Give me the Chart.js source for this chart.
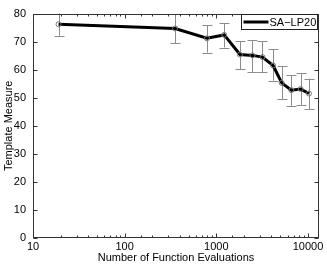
<!DOCTYPE html>
<html>
<head>
<meta charset="utf-8">
<script src="https://cdn.jsdelivr.net/npm/chart.js@4/dist/chart.umd.min.js"></script>
<style>
  html, body { margin: 0; padding: 0; background: #fff; }
  #wrap { width: 327px; height: 266px; }
</style>
</head>
<body>
<div id="wrap"><canvas id="templ"></canvas></div>
<script>
// data
const evals = [19, 355, 790, 1220, 1810, 2480, 3190, 4170, 5170, 6590, 8320, 10260];
const measure = [76.2, 74.7, 71.2, 72.4, 65.4, 65.1, 64.5, 61.5, 55.3, 52.7, 53.1, 51.5];
const errLow = [72.1, 69.5, 66.1, 67.9, 60.1, 59.2, 59.1, 56.1, 49.5, 47.1, 47.4, 46.0];
const errHigh = [80.6, 79.8, 75.9, 76.6, 70.2, 70.6, 70.2, 67.3, 61.3, 58.1, 58.8, 56.8];
const xLabels = [10, 100, 1000, 10000];
const seriesName = 'SA\u2212LP20';

const font = { family: '"Liberation Sans", Arial, sans-serif', size: 11 };

// gray error bars with caps, drawn under the line
const errorBars = {
  id: 'errorBars',
  beforeDatasetsDraw(chart) {
    const { ctx, chartArea, scales: { x, y } } = chart;
    ctx.save();
    ctx.beginPath();
    ctx.rect(chartArea.left, chartArea.top, chartArea.right - chartArea.left, chartArea.bottom - chartArea.top);
    ctx.clip();
    ctx.strokeStyle = '#8c8c8c';
    ctx.lineWidth = 1;
    evals.forEach((v, i) => {
      const px = Math.round(x.getPixelForValue(v)) + 0.5;
      const lo = y.getPixelForValue(errLow[i]);
      const hi = y.getPixelForValue(errHigh[i]);
      ctx.beginPath();
      ctx.moveTo(px, lo); ctx.lineTo(px, hi);
      ctx.moveTo(px - 5, Math.round(lo) + 0.5); ctx.lineTo(px + 5, Math.round(lo) + 0.5);
      ctx.moveTo(px - 5, Math.round(hi) + 0.5); ctx.lineTo(px + 5, Math.round(hi) + 0.5);
      ctx.stroke();
    });
    ctx.restore();
  }
};

// matlab style box with inward ticks, plus the legend box
const frame = {
  id: 'frame',
  afterDraw(chart) {
    const { ctx, chartArea: a, scales: { x, y } } = chart;
    ctx.save();
    ctx.strokeStyle = '#333';
    ctx.lineWidth = 1;
    const L = Math.round(a.left) + 0.5, R = Math.round(a.right) - 0.5;
    const T = Math.round(a.top) + 0.5, B = Math.round(a.bottom) - 0.5;
    ctx.strokeRect(L, T, R - L, B - T);
    ctx.beginPath();
    x.ticks.forEach(t => {
      const px = Math.round(x.getPixelForValue(t.value)) + 0.5;
      if (px < L || px > R) return;
      const len = xLabels.includes(t.value) ? 4 : 2;
      ctx.moveTo(px, B); ctx.lineTo(px, B - len);
      ctx.moveTo(px, T); ctx.lineTo(px, T + len);
    });
    y.ticks.forEach(t => {
      const py = Math.round(y.getPixelForValue(t.value)) + 0.5;
      ctx.moveTo(L, py); ctx.lineTo(L + 4, py);
      ctx.moveTo(R, py); ctx.lineTo(R - 4, py);
    });
    ctx.stroke();

    // legend
    const bw = 76, bh = 15;
    const bx = R - 1 - bw, by = 14.5;
    ctx.fillStyle = '#fff';
    ctx.fillRect(bx, by, bw, bh);
    ctx.strokeStyle = '#222';
    ctx.strokeRect(bx, by, bw, bh);
    ctx.strokeStyle = '#000';
    ctx.lineWidth = 3;
    ctx.beginPath();
    ctx.moveTo(bx + 2, by + bh / 2); ctx.lineTo(bx + 27, by + bh / 2);
    ctx.stroke();
    ctx.fillStyle = '#000';
    ctx.font = '11px ' + font.family;
    ctx.textBaseline = 'middle';
    ctx.fillText(chart.data.datasets[0].label, bx + 28, by + bh / 2 + 0.5);
    ctx.restore();
  }
};

new Chart(document.getElementById('templ'), {
  type: 'line',
  data: {
    datasets: [{
      label: seriesName,
      data: evals.map((v, i) => ({ x: v, y: measure[i] })),
      borderColor: '#000',
      borderWidth: 3,
      tension: 0,
      pointRadius: 2.5,
      pointBorderWidth: 1,
      pointBorderColor: '#777',
      pointBackgroundColor: 'rgba(0,0,0,0)'
    }]
  },
  options: {
    responsive: true,
    maintainAspectRatio: false,
    animation: false,
    layout: { padding: { top: 11, right: 8, left: 0, bottom: 0 } },
    plugins: { legend: { display: false }, tooltip: { enabled: false } },
    scales: {
      x: {
        type: 'logarithmic',
        min: 10,
        max: 13200,
        grid: { display: false, drawTicks: false },
        border: { display: false },
        ticks: {
          color: '#000', font, padding: 2, maxRotation: 0, autoSkip: false,
          callback: v => xLabels.includes(v) ? String(v) : ''
        },
        title: { display: true, text: 'Number of Function Evaluations', color: '#000', font, padding: { top: 0, bottom: 1 } },
        afterFit(s) { s.height = 28; }
      },
      y: {
        min: 0,
        max: 80,
        grid: { display: false, drawTicks: false },
        border: { display: false },
        ticks: { stepSize: 10, color: '#000', font, padding: 7 },
        title: { display: true, text: 'Template Measure', color: '#000', font, padding: { top: 2, bottom: 0 } },
        afterFit(s) { s.width = 33; }
      }
    }
  },
  plugins: [errorBars, frame]
});
</script>
</body>
</html>
